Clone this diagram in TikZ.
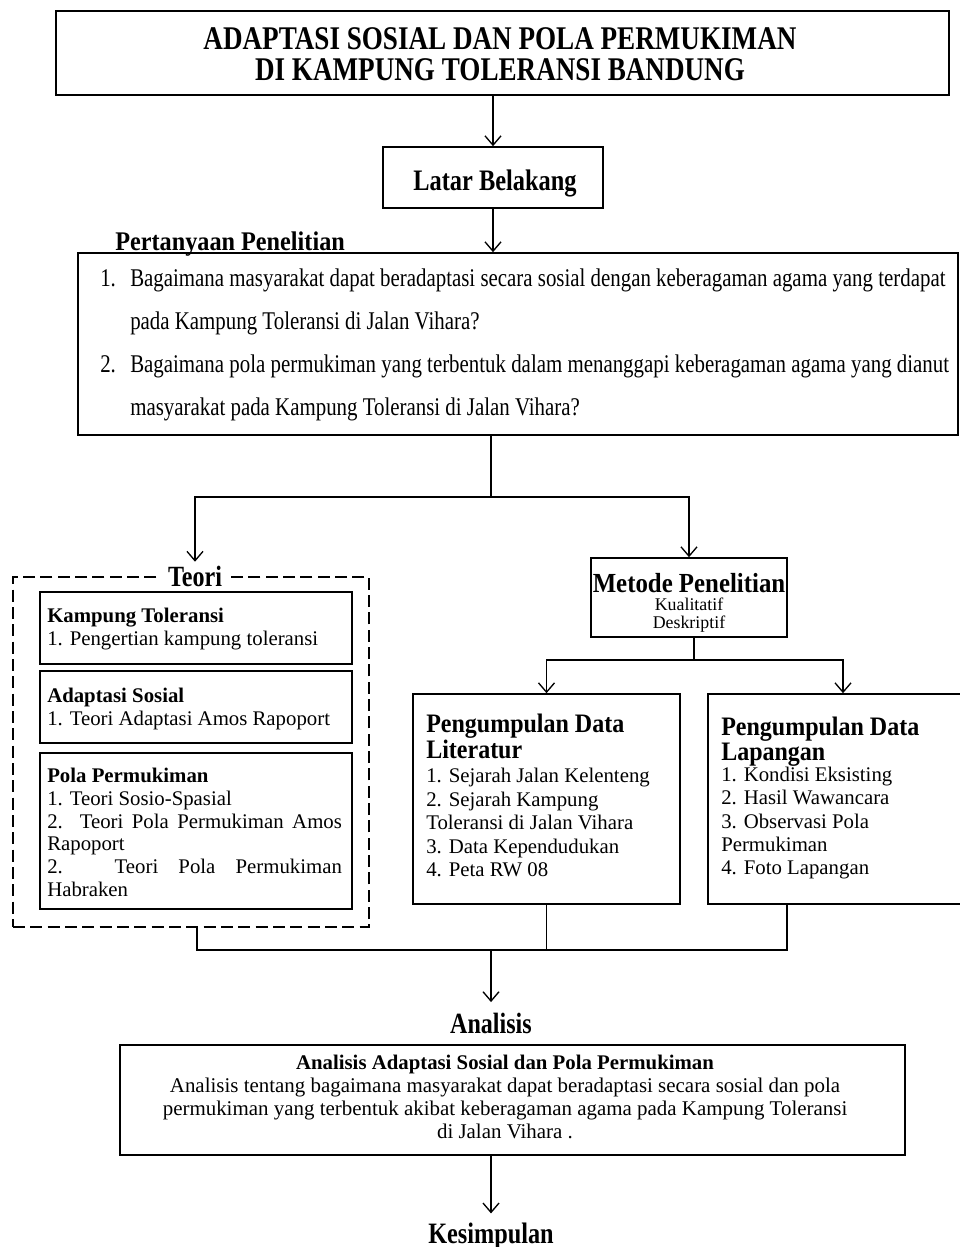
\documentclass[tikz,border=0pt]{standalone}
\usepackage{fontspec}
\setmainfont{Liberation Serif}[FakeStretch=0.82]
\newfontfamily\nrm{Liberation Serif}
\newfontfamily\semi{Liberation Serif}[FakeStretch=0.9]
\usetikzlibrary{arrows.meta,fit}
\begin{document}
\begin{tikzpicture}[x=0.75pt,y=-0.75pt,
  box/.style={draw,line width=1.2pt,inner sep=0pt},
  txt/.style={inner sep=0pt,align=left,anchor=north west},
  arr/.style={-{Straight Barb[length=7pt,width=12pt,line width=1pt]},line width=1.1pt},
  conn/.style={line width=1.1pt},
  lab/.style={inner sep=0pt,anchor=base,font=\bfseries\fontsize{22}{24}\selectfont},
  item/.style={txt,font=\nrm\fontsize{15.6}{17.4}\selectfont}
]
\useasboundingbox (0,0) rectangle (960,1247);
\fill[white] (0,0) rectangle (960,1247);

% title
\node[box,fit={(56,11)(949,95)}] (title) {};
\node[inner sep=0pt,align=center,anchor=north,font=\bfseries\fontsize{24.8}{23.6}\selectfont] (titletxt) at (500,27) {ADAPTASI SOSIAL DAN POLA PERMUKIMAN\\DI KAMPUNG TOLERANSI BANDUNG};

% latar belakang
\node[box,fit={(383,147)(603,208)}] (latar) {};
\node[lab,font=\bfseries\fontsize{22.3}{24}\selectfont] (latartxt) at (495,190) {Latar Belakang};

% pertanyaan
\node[inner sep=0pt,anchor=base west,font=\semi\bfseries\fontsize{20.2}{22}\selectfont] (pplab) at (115,250) {Pertanyaan Penelitian};
\node[box,fit={(78,253)(958,435)}] (q) {};
\node[txt,font=\fontsize{19.1}{32.2}\selectfont] (qtxt) at (100,269) {\makebox[22.5pt][l]{1.}Bagaimana masyarakat dapat beradaptasi secara sosial dengan keberagaman agama yang terdapat\\
\hspace*{22.5pt}pada Kampung Toleransi di Jalan Vihara?\\
\makebox[22.5pt][l]{2.}Bagaimana pola permukiman yang terbentuk dalam menanggapi keberagaman agama yang dianut\\
\hspace*{22.5pt}masyarakat pada Kampung Toleransi di Jalan Vihara?};

% teori
\node[draw,dash pattern=on 9pt off 4pt,line width=1.2pt,inner sep=0pt,fit={(13,577)(369,927)}] (teori) {};
\node[lab,fill=white,inner xsep=6pt,text height=18pt] (teorilab) at (195,586) {Teori};

\node[box,fit={(40,592)(352,664)}] (kt) {};
\node[item,font=\nrm\fontsize{15.6}{17.25}\selectfont] (kttxt) at (47,608) {\textbf{Kampung Toleransi}\\1. Pengertian kampung toleransi};
\node[box,fit={(40,671)(352,743)}] (as) {};
\node[item,font=\nrm\fontsize{15.6}{17.25}\selectfont] (astxt) at (47,688) {\textbf{Adaptasi Sosial}\\1. Teori Adaptasi Amos Rapoport};
\node[box,fit={(40,753)(352,909)}] (pp) {};
\node[item,font=\nrm\fontsize{15.6}{17}\selectfont] (pptxt) at (47,768) {\textbf{Pola Permukiman}\\1. Teori Sosio-Spasial\\\makebox[221pt][s]{2. Teori Pola Permukiman Amos}\\Rapoport\\\makebox[221pt][s]{2. Teori Pola Permukiman}\\Habraken};

% metode
\node[box,fit={(591,558)(787,637)}] (metode) {};
\node[inner sep=0pt,anchor=base,font=\semi\bfseries\fontsize{20.7}{24}\selectfont] (met1) at (689,592) {Metode Penelitian};
\node[inner sep=0pt,anchor=base,font=\nrm\fontsize{13.4}{15}\selectfont] (met2) at (689,610) {Kualitatif};
\node[inner sep=0pt,anchor=base,font=\nrm\fontsize{13.4}{15}\selectfont] (met3) at (689,628) {Deskriptif};

% literatur
\node[box,fit={(413,694)(680,904)}] (lit) {};
\node[txt,font=\semi\bfseries\fontsize{20}{19.5}\selectfont] (littitle) at (426,714) {Pengumpulan Data\\Literatur};
\node[item,font=\nrm\fontsize{15.6}{17.6}\selectfont] (lititems) at (426,768) {1. Sejarah Jalan Kelenteng\\2. Sejarah Kampung\\Toleransi di Jalan Vihara\\3. Data Kependudukan\\4. Peta RW 08};

% lapangan
\node[box,fit={(708,694)(978,904)}] (lap) {};
\node[txt,font=\semi\bfseries\fontsize{20}{18.5}\selectfont] (laptitle) at (721,717) {Pengumpulan Data\\Lapangan};
\node[item] (lapitems) at (721,767) {1. Kondisi Eksisting\\2. Hasil Wawancara\\3. Observasi Pola\\Permukiman\\4. Foto Lapangan};

% analisis
\node[lab,text height=23pt] (anlab) at (491,1033) {Analisis};
\node[box,fit={(120,1045)(905,1155)}] (an) {};
\node[inner sep=0pt,align=center,anchor=north,font=\nrm\fontsize{15.7}{17.25}\selectfont] (antxt) at (505,1055) {{\bfseries\fontsize{15.6}{17.25}\selectfont Analisis Adaptasi Sosial dan Pola Permukiman}\\Analisis tentang bagaimana masyarakat dapat beradaptasi secara sosial dan pola\\permukiman yang terbentuk akibat keberagaman agama pada Kampung Toleransi\\di Jalan Vihara .};

% kesimpulan
\node[lab,font=\bfseries\fontsize{22.2}{24}\selectfont,text height=22pt] (kes) at (491,1243) {Kesimpulan};

% connectors
\draw[arr] (title.south -| latar.north) -- (latar.north);
\draw[arr] (latar.south) -- (latar.south |- q.north);
\coordinate (s1) at (491,497);
\draw[conn] (s1 |- q.south) -- (s1);
\draw[arr] (s1) -| (teorilab.north);
\draw[arr] (s1) -| (metode.north);
\coordinate (s2) at (694,660);
\draw[conn] (s2 |- metode.south) -- (s2);
\draw[arr] (s2) -| (lit.north);
\draw[arr] (s2) -| (lap.north);
\coordinate (mL) at (197,950);
\coordinate (mR) at (787,950);
\coordinate (m1) at (491,950);
\draw[conn] (mL |- teori.south) -- (mL) -- (mR) -- (mR |- lap.south);
\draw[conn] (lit.south) -- (lit.south |- m1);
\draw[arr] (m1) -- (anlab.north);
\draw[arr] (an.south -| m1) -- (kes.north);
\end{tikzpicture}
\end{document}
